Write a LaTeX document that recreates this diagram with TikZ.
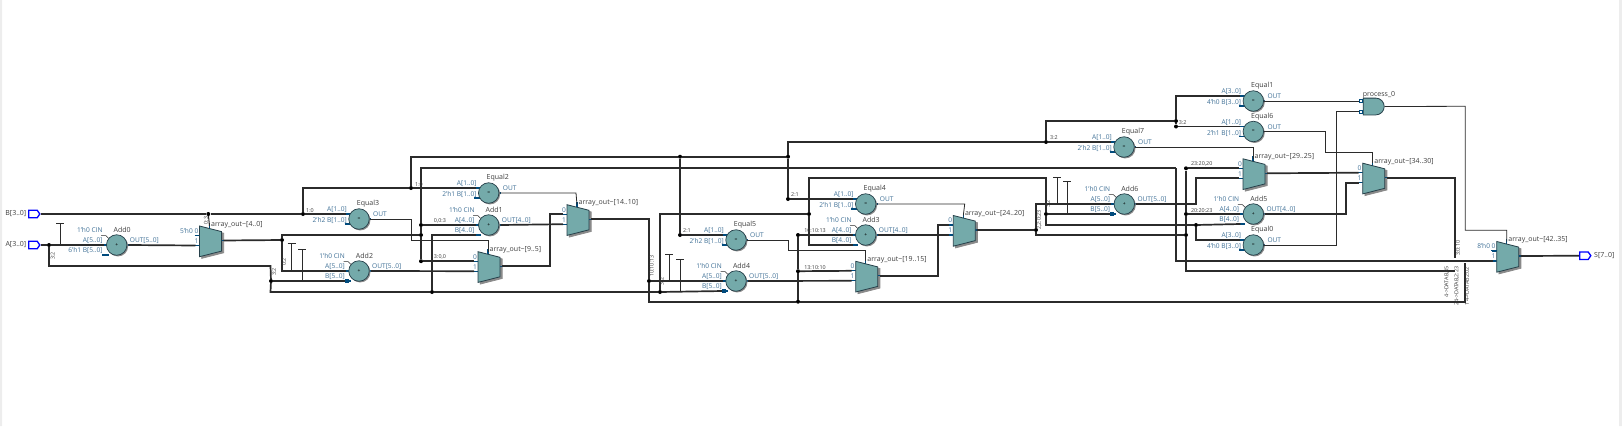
\documentclass[tikz,border=0pt]{standalone}
\usepackage{fontspec}
\setmainfont{Open Sans}
\usetikzlibrary{shapes.geometric,shapes.symbols,shapes.gates.logic.US,arrows.meta}
\definecolor{blkfill}{HTML}{74AAAA}
\definecolor{blkedge}{HTML}{26404A}
\definecolor{blkshade}{HTML}{8A8A8A}
\definecolor{pincol}{HTML}{004B7D}
\definecolor{lblcol}{HTML}{3F7096}
\definecolor{namecol}{HTML}{3C3C3C}
\definecolor{wirecol}{HTML}{2B2B2B}
\tikzset{
  bus/.style={draw=wirecol,line width=1.7pt},
  sig/.style={draw=wirecol,line width=.8pt},
  stub/.style={draw=pincol,line width=1.3pt},
  tie/.style={sig,{Bar[width=8pt,length=0pt]}-},
  dotnode/.style={circle,fill=black,inner sep=0pt,minimum size=4pt},
  roundblk/.style={circle,fill=blkfill,draw=blkedge,line width=.7pt,inner sep=0pt,minimum size=20.5pt,font=\fontsize{5}{5}\selectfont},
  roundsh/.style={circle,fill=blkshade,inner sep=0pt,minimum size=20.5pt},
  muxblk/.style={trapezium,trapezium stretches=true,trapezium left angle=74,trapezium right angle=74,
    minimum width=30.7pt,minimum height=22pt,inner sep=1pt,rotate=-90,fill=blkfill,draw=blkedge,line width=.8pt},
  muxsh/.style={muxblk,fill=blkshade,draw=blkshade},
  pinblk/.style={signal,signal to=east,signal pointer angle=110,draw=blue,fill=white,line width=1.3pt,
    minimum width=11pt,minimum height=7.5pt,inner sep=0pt},
  pinsq/.style={rectangle,draw=pincol,fill=white,line width=.6pt,inner sep=0pt,minimum size=2.8pt},
  pinlbl/.style={text=lblcol,font=\fontsize{6.6}{7}\selectfont,inner sep=0pt},
  namelbl/.style={text=namecol,font=\fontsize{7}{7}\selectfont,inner sep=0pt},
  bitlbl/.style={text=namecol,font=\fontsize{5.4}{6}\selectfont,inner sep=0pt},
  iolbl/.style={text=namecol,font=\fontsize{7}{7}\selectfont,inner sep=0pt}
}
% adder: name, x, y, msb, constant in front of B
\newcommand{\addblk}[5]{
  \begin{scope}[shift={(#2,#3)}]
    \draw[stub] (-14,0) -- (-9,0) (-14.5,10) -- (-8,10) (10,0) -- (13,0);
    \draw[sig,line width=.5pt] (-15.5,-9.5) -- (-11,-9.5) -- (-8,-6.5);
    \node[roundsh] (#1-sh) at (1.2,1.2) {};
    \node[roundblk] (#1) at (0,0) {+};
    \coordinate (#1-A) at (-13,0);
    \coordinate (#1-B) at (-13,10);
    \coordinate (#1-O) at (12,0);
    \node[namelbl] (#1-n) at (5.5,-15) {#1};
    \node[pinlbl,anchor=east] (#1-c) at (-14,-15) {1'h0 CIN};
    \node[pinlbl,anchor=east] (#1-a) at (-14,-4.5) {A[#4..0]};
    \node[pinlbl,anchor=east] (#1-b) at (-14,6) {#5B[#4..0]};
    \node[pinlbl,anchor=west] (#1-o) at (13,-4.5) {OUT[#4..0]};
  \end{scope}
}
% comparator: name, x, y, msb, constant
\newcommand{\eqblk}[5]{
  \begin{scope}[shift={(#2,#3)}]
    \draw[stub] (-14,-5) -- (-8,-5) (-14.5,5) -- (-8,5) (10,0) -- (12,0);
    \node[roundsh] (#1-sh) at (1.2,1.2) {};
    \node[roundblk] (#1) at (0,0) {=};
    \coordinate (#1-A) at (-13,-5);
    \coordinate (#1-O) at (11,0);
    \node[namelbl] (#1-n) at (9,-15) {#1};
    \node[pinlbl,anchor=east] (#1-a) at (-12,-9) {A[#4..0]};
    \node[pinlbl,anchor=east] (#1-b) at (-12,1.7) {#5 B[#4..0]};
    \node[pinlbl,anchor=west] (#1-o) at (14,-4.5) {OUT};
  \end{scope}
}
% mux: name, left x, top y, label, text at input 0
\newcommand{\muxnode}[5]{
  \begin{scope}[shift={(#2,#3)}]
    \node[muxsh] (#1-sh) at (13.2,17) {};
    \draw[stub] (-5,9.5) -- (0,9.5) (-5,19.5) -- (0,19.5) (22,14.5) -- (25,14.5) (10,-3) -- (10,3);
    \node[muxblk] (#1) at (11,15.35) {};
    \coordinate (#1-0) at (-4,9.5);
    \coordinate (#1-1) at (-4,19.5);
    \coordinate (#1-o) at (24,14.5);
    \coordinate (#1-s) at (10,0);
    \node[iolbl] (#1-n) at (0,0) [anchor=west,xshift=11.5pt,yshift=1.5pt] {#4};
    \node[pinlbl,anchor=east] (#1-l0) at (-1,5) {#5};
    \node[pinlbl,anchor=east] (#1-l1) at (-1,15) {1};
  \end{scope}
}
\begin{document}
\begin{tikzpicture}[x=1pt,y=-1pt]
\useasboundingbox (0,0) rectangle (1622,426);
\fill[black!7] (0,0) rectangle (2,426) (1619,0) rectangle (1622,426);
\node[pinblk] (pinB) at (33,214) {};
\node[pinblk] (pinA) at (33,245) {};
\node[pinblk] (pinS) at (1584,255.7) {};
\node[iolbl,anchor=east] (pinB-l) at (26.5,214) {B[3..0]};
\node[iolbl,anchor=east] (pinA-l) at (26.5,245) {A[3..0]};
\node[iolbl,anchor=west] (pinS-l) at (1594,255.7) {S[7..0]};
\addblk{Add0}{116.7}{245}{5}{6'h1 }
\addblk{Add2}{359}{271}{5}{}
\addblk{Add1}{488.7}{225}{4}{}
\addblk{Add4}{736}{281}{5}{}
\addblk{Add3}{865.7}{235}{4}{}
\addblk{Add6}{1124.3}{204}{5}{}
\addblk{Add5}{1253.3}{214}{4}{}
\eqblk{Equal3}{359}{219}{1}{2'h2}
\eqblk{Equal2}{488.7}{193}{1}{2'h1}
\eqblk{Equal5}{736}{240}{1}{2'h2}
\eqblk{Equal4}{865.7}{204}{1}{2'h1}
\eqblk{Equal7}{1124}{147}{1}{2'h2}
\eqblk{Equal1}{1253.3}{101}{3}{4'h0}
\eqblk{Equal6}{1253.3}{131.5}{1}{2'h1}
\eqblk{Equal0}{1253.3}{245}{3}{4'h0}
\muxnode{Mux0}{199.5}{226}{array\_out\textasciitilde[4..0]}{5'h0 0}
\muxnode{Mux1}{478}{251.7}{array\_out\textasciitilde[9..5]}{0}
\muxnode{Mux2}{567}{204.7}{array\_out\textasciitilde[14..10]}{0}
\muxnode{Mux3}{855.7}{261.3}{array\_out\textasciitilde[19..15]}{0}
\muxnode{Mux4}{953.3}{215.5}{array\_out\textasciitilde[24..20]}{0}
\muxnode{Mux5}{1243}{158.8}{array\_out\textasciitilde[29..25]}{0}
\muxnode{Mux6}{1362.7}{163.2}{array\_out\textasciitilde[34..30]}{0}
\muxnode{Mux7}{1496.7}{241.5}{array\_out\textasciitilde[42..35]}{8'h0 0}
\node[and gate US,draw=blkedge,fill=blkfill,line width=.8pt,logic gate inputs=nn,minimum width=21pt,minimum height=16.5pt,inner sep=0pt] (proc) at (1373,106.5) {};
\node[pinsq] (proc-a) at (1361,101) {};
\node[pinsq] (proc-b) at (1361,111.7) {};
\node[iolbl] (proc-n) at (1379,94.7) {process\_0};
% junctions
\foreach \n/\xx/\yy in {j0/208.3/214,j1/303/214,j2/411/188,j3/680/156.7,j4/788/156.7,j5/1046/142,j6/1176/121,j7/1176/126.5,
  j8/680/235,j9/788/199,j10/49/245,j11/432/292,j12/271/281,j13/809/214,j14/1046/214,j15/1196/225,j16/282/240,j17/421/235,
  j18/421/225,j19/421/261.2,j20/649/281,j21/798/301.7,j22/798/271.2,j23/798/235,j24/1036/230,j25/1186/235,j26/1186/168.3,
  j27/1186/214,j28/660/292}
  \node[dotnode] (\n) at (\xx,\yy) {};
% bends
\foreach \n/\xx/\yy in {k1/270.5/266,k2/270.5/292,k3/1046/178,k4/1046/225,k5/421/168,k6/1176/168,k7/1444/261,k8/550/265.7,
  k9/649/219.2,k10/649/301.7,k11/1465/301.7,k12/1465/263,k13/938.3/275.8,k14/1036/235,k15/1196/204,k16/1186/270.7,k17/1455/270.7,
  k18/1346/214,k19/1455/177.7,k20/1455/258,k21/1444/261,
  s1/411.7/219,s2/411.7/240.7,s3/488/240.7,s4/576/193,s5/788/240,s6/788/250.3,s7/865.7/250.3,s8/964.7/204,s9/1253/147,
  s10/1325.7/131.5,s11/1325.7/152.3,s12/1372.7/152.3,s13/1336.7/245,s14/1336.7/111.7,s15/1465.3/106.3,s16/1465.3/230.3,s17/1506.7/230.3}
  \coordinate (\n) at (\xx,\yy);
% input B and its copies
\draw[bus] (pinB) -- (j0) -- (j1) |- (j2) -- (Equal2-A);
\draw[bus] (j1) -- (Equal3-A);
\draw[bus] (j2) |- (j3) -- (j4) |- (j5) -- (Equal7-A);
\draw[bus] (j5) |- (j6) |- (Equal1-A);
\draw[bus] (j6) -- (j7) -- (Equal6-A);
\draw[bus] (j3) -- (j8) -- (Equal5-A);
\draw[bus] (j4) -- (j9) -- (Equal4-A);
% input A and its copies
\draw[bus] (pinA) -- (j10) -- (Add0-A);
\draw[bus] (j10) |- (k1) -- (j12) -- (k2) -- (j11) -- (j28) -- (Add4-B);
\draw[bus] (j12) -- (Add2-B);
\draw[bus] (j11) |- (Add1-B);
\draw[bus] (j28) |- (j13) |- (k3) -- (j14) -- (k4) -- (j15) -- (Add5-B);
\draw[bus] (j14) -- (Add6-B);
\draw[bus] (j15) |- (Equal0-A);
\draw[bus] (j13) |- (Add3-B);
% data path
\draw[bus] (Add0-O) -- (Mux0-1);
\draw[bus] (Mux0-o) -- (j16) |- (j17);
\draw[bus] (j16) |- (Add2-A);
\draw[bus] (k6) -- (k5) -- (j18) -- (j17) -- (j19) -- (Mux1-0);
\draw[bus] (k6) |- (k7);
\draw[bus] (j18) -- (Add1-A);
\draw[bus] (Add2-O) -- (Mux1-1);
\draw[bus] (Mux1-o) -| (k8) |- (Mux2-0);
\draw[bus] (Add1-O) -- (Mux2-1);
\draw[bus] (Mux2-o) -- (k9) -- (j20) -- (k10) -- (j21) -- (k11) -- (k12);
\draw[bus] (j20) -- (Add4-A);
\draw[bus] (Add4-O) -- (Mux3-1);
\draw[bus] (j21) -- (j22) -- (j23) -- (Add3-A);
\draw[bus] (j22) -- (Mux3-0);
\draw[bus] (Mux3-o) -- (k13) |- (Mux4-0);
\draw[bus] (Add3-O) -- (Mux4-1);
\draw[bus] (Mux4-o) -- (j24) |- (Add6-A);
\draw[bus] (j24) -- (k14) -- (j25);
\draw[bus] (Add6-O) -- (k15) |- (Mux5-1);
\draw[bus] (j26) -- (Mux5-0);
\draw[bus] (j26) -- (j27) -- (j25) -- (k16) -- (k17);
\draw[bus] (j27) -- (Add5-A);
\draw[bus] (Mux5-o) -- (Mux6-0);
\draw[bus] (Add5-O) -- (k18) |- (Mux6-1);
\draw[bus] (Mux6-o) -- (k19) -- (k20);
\draw[bus,line width=1.2pt] (k21) -- (Mux7-1);
\draw[bus] (Mux7-o) -- (pinS);
\draw[stub] (1491,250.5) -- (1496.7,250.5);
% select lines
\draw[bus,line width=1pt] (j0) -- (Mux0-s);
\draw[sig] (Equal3-O) -- (s1) -- (s2) -- (s3) -- (Mux1-s);
\draw[sig] (Equal2-O) -- (s4) -- (Mux2-s);
\draw[sig] (Equal5-O) -- (s5) -- (s6) -- (s7) -- (Mux3-s);
\draw[sig] (Equal4-O) -- (s8) -- (Mux4-s);
\draw[sig] (Equal7-O) -- (s9) -- (Mux5-s);
\draw[sig] (Equal6-O) -- (s10) -- (s11) -- (s12) -- (Mux6-s);
\draw[sig] (Equal1-O) -- (proc-a);
\draw[sig] (Equal0-O) -- (s13) -- (s14) -- (proc-b);
\draw[sig] (proc.output) -- (s15) -- (s16) -- (s17) -- (Mux7-s);
% tied off pins
\foreach \xx/\yt/\yb [count=\i] in {60/223/245,291.7/243.3/271,302.3/248.7/281,669.3/254.3/281,680/259.3/292,1057.3/176.7/204,1067.3/181.3/214}{
  \coordinate (tie\i) at (\xx,\yt);
  \draw[tie] (tie\i) -- (\xx,\yb);
}
\foreach \n in {Add2,Add4,Add6}
  \fill[pincol] (\n-B) ++(-1,-2) rectangle ++(3.5,3.5);
% bit labels
\foreach \xx/\yy/\txt [count=\i] in {310/210.7/1:0,419/185/1:0,440/221/{0,0:3},440/256.7/{3:0,0},687/230.7/2:1,795/195/2:1,
  815/230.7/10:10:13,815/267.7/13:10:10,1054/137.7/3:2,1182.7/122.7/3:2,1201.7/164/{23:20,20},1201.7/211/20:20:23}
  \node[bitlbl] (bit\i) at (\xx,\yy) {\txt};
\foreach \xx/\yy/\txt [count=\i] in {206/220.7/0:3,52.7/256/3:2,274/272/3:2,284/262/0:2,651.7/266/10:10:13,661.7/281.7/3:2,
  1048/204/3:2,1039.3/220/{2,2:0:23},1458/248/3:0:10,1446.7/282/{4->DATAB,85},1456.7/286/{24->DATAB,2:23},1467/286/{14->DATAB2:02}}
  \node[bitlbl,rotate=90] (rbit\i) at (\xx,\yy) {\txt};
\end{tikzpicture}
\end{document}
